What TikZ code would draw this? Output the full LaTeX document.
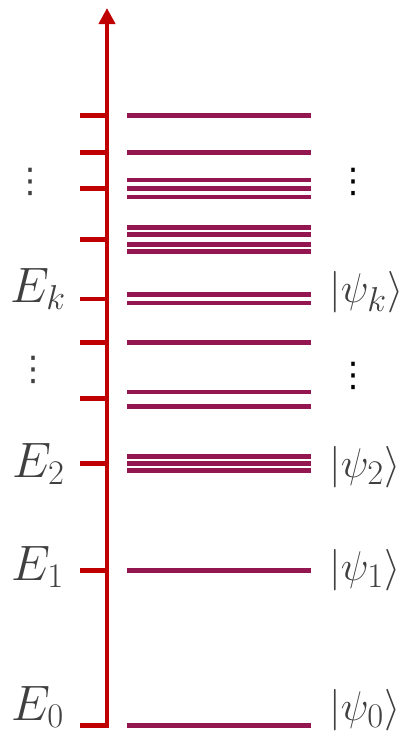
\documentclass[tikz,border=0pt]{standalone}
\usepackage{amsmath}
\usepackage{fontspec}
\usepackage{tikz}
\usetikzlibrary{arrows.meta}
\newfontfamily\dotsfont{DejaVu Sans}
\definecolor{axisred}{RGB}{192,0,0}
\definecolor{levelpurple}{RGB}{148,22,81}
\definecolor{labelgray}{RGB}{64,64,64}

\begin{document}
\begin{tikzpicture}[x=0.5pt,y=0.5pt,yscale=-1,
  level/.style={draw=levelpurple,line width=2.3pt},
  tickmark/.style={draw=axisred,line width=2.3pt},
  energy/.style={text=labelgray,inner sep=0.75pt,font=\fontsize{25}{30}\selectfont},
  ket/.style={text=labelgray,inner sep=0pt,font=\fontsize{22.8}{27}\selectfont},
  dotlabel/.style={inner sep=0pt,font=\dotsfont\fontsize{17}{20}\selectfont}]
\path[use as bounding box] (0,0) rectangle (409,740);

%Energy axis with E_0 corner
\draw [axisred,line width=2.3pt,line join=miter,-{Triangle[width=8pt,length=8pt]}] (80,725.7) -- (107,725.7) -- (107,8);
%Tick marks
\draw [tickmark] (80,115.7) -- (107,115.7);
\draw [tickmark] (80,152.7) -- (107,152.7);
\draw [tickmark] (80,188.3) -- (107,188.3);
\draw [tickmark] (80,239.3) -- (107,239.3);
\draw [tickmark] (80,299) -- (107,299);
\draw [tickmark] (80,342.7) -- (107,342.7);
\draw [tickmark] (80,398.7) -- (107,398.7);
\draw [tickmark] (80,463.3) -- (107,463.3);
\draw [tickmark] (80,570.7) -- (107,570.7);

%Levels: top
\draw [level] (127,115.7) -- (311,115.7);
\draw [level] (127,152.7) -- (311,152.7);
%Levels: triple
\draw [level] (127,180) -- (311,180);
\draw [level] (127,188.5) -- (311,188.5);
\draw [level] (127,197) -- (311,197);
%Levels: quadruple
\draw [level] (127,227.3) -- (311,227.3);
\draw [level] (127,234.7) -- (311,234.7);
\draw [level] (127,244.2) -- (311,244.2);
\draw [level] (127,251.7) -- (311,251.7);
%Levels: k
\draw [level] (127,294.3) -- (311,294.3);
\draw [level] (127,303) -- (311,303);
\draw [level] (127,342.7) -- (311,342.7);
%Levels: pair
\draw [level] (127,392) -- (311,392);
\draw [level] (127,406.7) -- (311,406.7);
%Levels: 2
\draw [level] (127,456.3) -- (311,456.3);
\draw [level] (127,463.5) -- (311,463.5);
\draw [level] (127,470.5) -- (311,470.5);
%Levels: 1 and 0
\draw [level] (127,570.7) -- (311,570.7);
\draw [level] (127,725.7) -- (311,725.7);

% Text Node
\node (Ek) [energy,anchor=base east] at (68,302) {$E_k$};
% Text Node
\node (E2) [energy,anchor=base east] at (67,477) {$E_2$};
% Text Node
\node (E1) [energy,anchor=base east] at (66,580) {$E_1$};
% Text Node
\node (E0) [energy,anchor=base east] at (66,720) {$E_0$};
% Text Node
\node (psik) [ket,anchor=base west] at (329,302) {$|\psi_k\rangle$};
% Text Node
\node (psi2) [ket,anchor=base west] at (329,477) {$|\psi_2\rangle$};
% Text Node
\node (psi1) [ket,anchor=base west] at (329,580) {$|\psi_1\rangle$};
% Text Node
\node (psi0) [ket,anchor=base west] at (329,720) {$|\psi_0\rangle$};

% Text Node
\node (dotsL1) [dotlabel,text=labelgray] at (30,182) {⋮};
% Text Node
\node (dotsL2) [dotlabel,text=labelgray] at (34,370) {⋮};
% Text Node
\node (dotsR1) [dotlabel] at (353,182) {⋮};
% Text Node
\node (dotsR2) [dotlabel] at (353,376) {⋮};

\end{tikzpicture}
\end{document}
